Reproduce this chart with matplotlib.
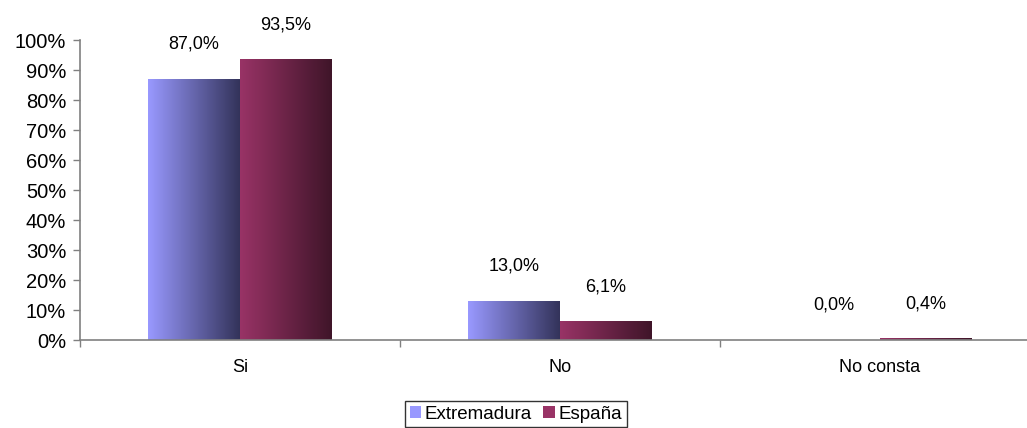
import numpy as np
import matplotlib
matplotlib.use("Agg")
import matplotlib.pyplot as plt
from matplotlib.colors import LinearSegmentedColormap
from matplotlib.patches import Rectangle

categories = ["Si", "No", "No consta"]
series_names = ["Extremadura", "España"]
extremadura = [87.0, 13.0, 0.0]
espana = [93.5, 6.1, 0.4]
labels_ext = ["87,0%", "13,0%", "0,0%"]
labels_esp = ["93,5%", "6,1%", "0,4%"]
yticks = [0, 10, 20, 30, 40, 50, 60, 70, 80, 90, 100]

plt.rcParams['font.family'] = ['Liberation Sans', 'DejaVu Sans']

fig = plt.figure(figsize=(10.27, 4.28), dpi=100)
ax = fig.add_axes([80/1027, 88/428, 960/1027, 300/428])

grads = [("#9999FF", "#33335A"), ("#993366", "#3F1529")]
cmaps = [LinearSegmentedColormap.from_list("g%d" % i, c) for i, c in enumerate(grads)]

x = np.arange(len(categories))
w = 0.2875
series = [extremadura, espana]
lbls = [labels_ext, labels_esp]
offsets = [-w/2, w/2]
grad = np.linspace(0, 1, 256).reshape(1, -1)
for s, vals in enumerate(series):
    bars = ax.bar(x + offsets[s], vals, width=w, color='none', edgecolor='none')
    for b, v, lab in zip(bars, vals, lbls[s]):
        x0 = b.get_x()
        if v > 0:
            ax.imshow(grad, cmap=cmaps[s], aspect='auto',
                      extent=[x0, x0 + w, 0, v], zorder=2, interpolation='bilinear')
        ax.annotate(lab, (x0 + w/2, v), xytext=(0, 25), textcoords='offset points',
                    ha='center', va='center', fontsize=13, color='#000000')

ax.set_xlim(-0.5, 2.5)
ax.set_ylim(0, 100)
ax.set_yticks(yticks)
ax.set_yticklabels(["%d%%" % t for t in yticks], fontsize=14.5)
ax.set_xticks(x)
ax.set_xticklabels(categories, fontsize=13)
ax.tick_params(axis='x', length=0, pad=14)
ax.set_xticks([-0.5, 0.5, 1.5, 2.5], minor=True)
ax.tick_params(axis='x', which='minor', length=5, color='#808080', width=1)
ax.tick_params(axis='y', length=5, color='#808080', width=1, pad=5)
for sp in ['top', 'right']:
    ax.spines[sp].set_visible(False)
for sp in ['left', 'bottom']:
    ax.spines[sp].set_color('#808080')
    ax.spines[sp].set_linewidth(1.2)
ax.patch.set_alpha(0)

handles = []
for s in range(2):
    handles.append(Rectangle((0, 0), 1, 1, facecolor=grads[s][0]))
leg = fig.legend(handles, series_names, loc='upper center', bbox_to_anchor=(516/1027, 1 - 401/428),
                 ncol=2, frameon=True, fancybox=False, fontsize=13.5,
                 handlelength=0.6, handleheight=0.6, handletextpad=0.2, columnspacing=0.6,
                 borderpad=0.25, borderaxespad=0)
leg.get_frame().set_edgecolor('black')
leg.get_frame().set_linewidth(1.0)

fig.savefig("out.png", dpi=100)
